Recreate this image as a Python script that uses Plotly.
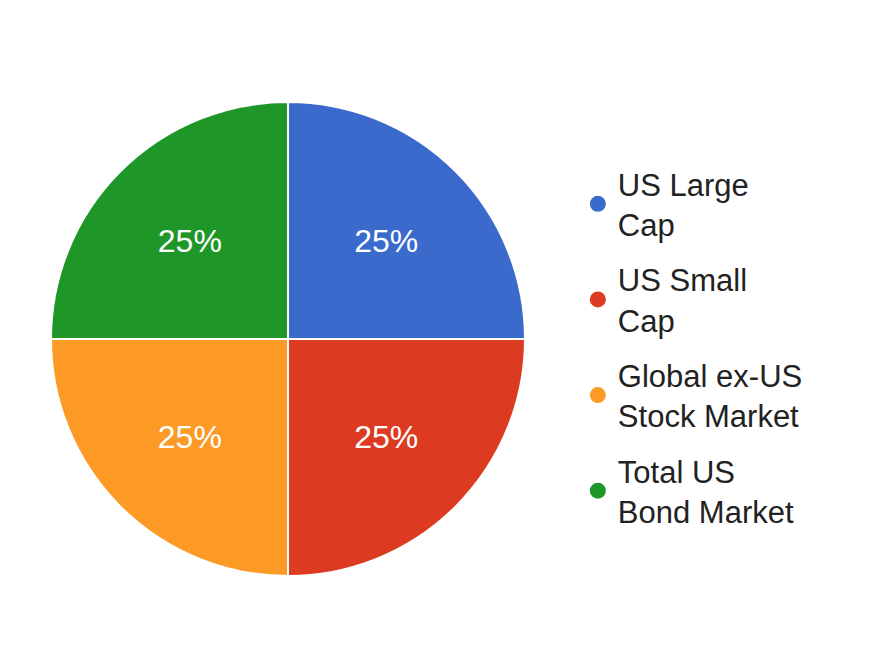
import plotly.graph_objects as go

labels = ["US Large Cap", "US Small Cap", "Global ex-US Stock Market", "Total US Bond Market"]
legend_names = ["US Large<br>Cap", "US Small<br>Cap", "Global ex-US<br>Stock Market", "Total US<br>Bond Market"]
values = [25, 25, 25, 25]
colors = ["#3a6bcc", "#dc3b22", "#fc9a25", "#1f9628"]

fig = go.Figure()
fig.add_trace(go.Pie(
    labels=labels, values=values, sort=False, direction="clockwise", rotation=0,
    marker=dict(colors=colors, line=dict(color="white", width=2)),
    textinfo="percent", textposition="inside", insidetextorientation="horizontal",
    textfont=dict(color="white", size=32, family="Liberation Sans, Arial"),
    domain=dict(x=[43/870, 517/870], y=[1-568/648, 1-94/648]),
    showlegend=False, hoverinfo="label+percent",
))
for i, (n, c) in enumerate(zip(legend_names, colors)):
    fig.add_trace(go.Scatter(x=[None], y=[None], mode="markers", name=n, legendgroup=f"g{i}",
                             marker=dict(color=c, size=30, symbol="circle")))
fig.update_layout(
    width=870, height=648, margin=dict(l=0, r=0, t=0, b=0),
    paper_bgcolor="white", plot_bgcolor="white",
    xaxis=dict(visible=False), yaxis=dict(visible=False),
    font=dict(family="Liberation Sans, Arial", size=31, color="#222222"),
    legend=dict(x=0.655, y=0.77, xanchor="left", yanchor="top", tracegroupgap=12,
                itemsizing="trace", font=dict(size=31, color="#222222")),
)
fig.write_html("out.html")
